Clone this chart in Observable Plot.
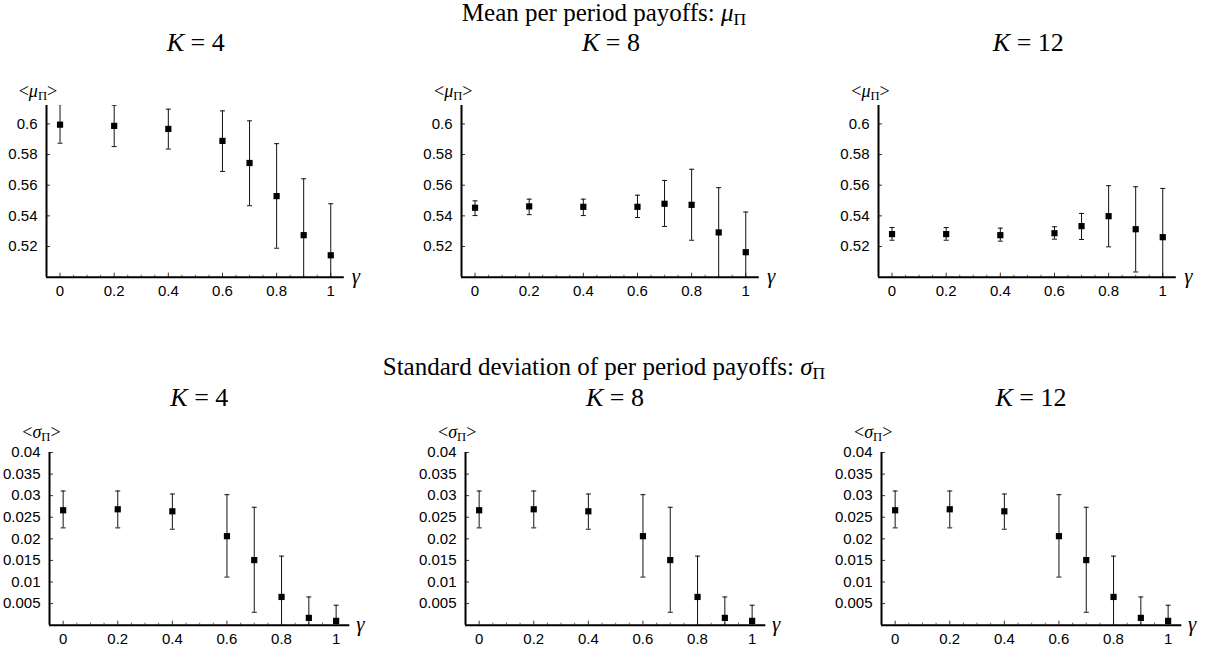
<!DOCTYPE html>
<html><head><meta charset="utf-8">
<script src="https://cdn.jsdelivr.net/npm/d3@7"></script>
<script src="https://cdn.jsdelivr.net/npm/@observablehq/plot@0.6"></script>
<style>
body{margin:0;background:#fff;}
#root{position:relative;width:1212px;height:649px;overflow:hidden;font-family:"Liberation Serif","DejaVu Serif",serif;color:#000;}
.t{position:absolute;white-space:nowrap;line-height:1;}
.c{transform:translateX(-50%);}
.t sub{font-size:0.7em;vertical-align:-0.25em;line-height:0;}
svg{position:absolute;}
</style></head><body><div id="root"></div><script>
// ---- data ----
const gamma = [0, 0.2, 0.4, 0.6, 0.7, 0.8, 0.9, 1];
const kValues = [4, 8, 12];
const xTicks = [0, 0.2, 0.4, 0.6, 0.8, 1];
const xMinorTicks = [0.05, 0.1, 0.15, 0.25, 0.3, 0.35, 0.45, 0.5, 0.55, 0.65, 0.7, 0.75, 0.85, 0.9, 0.95];
const meanTicks = [0.52, 0.54, 0.56, 0.58, 0.6];
const sdTicks = [0.005, 0.01, 0.015, 0.02, 0.025, 0.03, 0.035, 0.04];

// mean per period payoffs (centre, lower, upper) for K = 4, 8, 12
const meanK4 = [0.5995, 0.5987, 0.5967, 0.5889, 0.5745, 0.5529, 0.5274, 0.5143];
const meanK4Lo = [0.5874, 0.5852, 0.5836, 0.5690, 0.5466, 0.5189, 0.4906, 0.4807];
const meanK4Hi = [0.6126, 0.6122, 0.6096, 0.6085, 0.6020, 0.5871, 0.5642, 0.5479];
const meanK8 = [0.5453, 0.5462, 0.5459, 0.5459, 0.5479, 0.5472, 0.5292, 0.5163];
const meanK8Lo = [0.5402, 0.5408, 0.5402, 0.5389, 0.5331, 0.5241, 0.4995, 0.4901];
const meanK8Hi = [0.5498, 0.5509, 0.5509, 0.5535, 0.5631, 0.5704, 0.5584, 0.5425];
const meanK12 = [0.5281, 0.5281, 0.5274, 0.5287, 0.5333, 0.5398, 0.5313, 0.5261];
const meanK12Lo = [0.5241, 0.5241, 0.5235, 0.5248, 0.5246, 0.5198, 0.5034, 0.4943];
const meanK12Hi = [0.5324, 0.5324, 0.5320, 0.5329, 0.5416, 0.5597, 0.5590, 0.5579];

// standard deviation of per period payoffs (identical for K = 4, 8, 12)
const sdK4 = [0.02662, 0.02685, 0.02638, 0.02062, 0.01508, 0.00654, 0.00169, 0.00100];
const sdK4Lo = [0.02254, 0.02254, 0.02223, 0.01115, 0.00300, -0.0030, -0.0030, -0.0026];
const sdK4Hi = [0.03108, 0.03108, 0.03038, 0.03023, 0.02731, 0.01600, 0.00654, 0.00462];
const sdK8 = sdK4, sdK8Lo = sdK4Lo, sdK8Hi = sdK4Hi;
const sdK12 = sdK4, sdK12Lo = sdK4Lo, sdK12Hi = sdK4Hi;

const meanSeries = [[meanK4, meanK4Lo, meanK4Hi], [meanK8, meanK8Lo, meanK8Hi], [meanK12, meanK12Lo, meanK12Hi]];
const sdSeries = [[sdK4, sdK4Lo, sdK4Hi], [sdK8, sdK8Lo, sdK8Hi], [sdK12, sdK12Lo, sdK12Hi]];

// ---- layout ----
const root = document.getElementById("root");
function addText(html, x, y, size, center, extra) {
  const d = document.createElement("div");
  d.className = "t" + (center ? " c" : "");
  d.style.left = x + "px"; d.style.top = y + "px"; d.style.fontSize = size + "px";
  if (extra) Object.assign(d.style, extra);
  d.innerHTML = html;
  root.appendChild(d);
}
const cap = {draw(ctx, size) { const w = Math.sqrt(size / Math.PI); ctx.moveTo(-w, 0); ctx.lineTo(w, 0); }};
const xDomain = [-0.05, 1.05];

function panel(series, yDomain, yTicks, axisX, axisTop, plotW, plotH) {
  const [mid, lo, hi] = series;
  const data = gamma.map((g, i) => ({g, m: mid[i], lo: lo[i], hi: hi[i]}));
  const mL = 60, mR = 40, mT = 12, mB = 34;
  const svg = Plot.plot({
    width: mL + plotW + mR, height: mT + plotH + mB,
    marginLeft: mL, marginRight: mR, marginTop: mT, marginBottom: mB,
    x: {domain: xDomain, label: null},
    y: {domain: yDomain, label: null},
    style: {fontFamily: "'Liberation Sans', Arial, sans-serif", fontSize: "15px", background: "transparent", color: "#000"},
    marks: [
      Plot.axisX(xTicks, {tickSize: 0, tickPadding: 8, tickFormat: d => String(d), label: null}),
      Plot.axisY(yTicks, {tickSize: 0, tickPadding: 9, tickFormat: d => String(d), label: null}),
      Plot.ruleX(xTicks, {insetTop: plotH - 4, stroke: "#000", strokeWidth: 0.8}),
      Plot.ruleX(xMinorTicks, {insetTop: plotH - 2, stroke: "#000", strokeWidth: 0.6}),
      Plot.ruleY(yTicks, {insetRight: plotW - 4, stroke: "#000", strokeWidth: 0.8}),
      Plot.ruleX(data, {x: "g", y1: "lo", y2: "hi", stroke: "#111", strokeWidth: 1, clip: true}),
      Plot.dot(data, {x: "g", y: "lo", symbol: cap, r: 2.5, fill: "none", stroke: "#111", strokeWidth: 1, clip: true}),
      Plot.dot(data, {x: "g", y: "hi", symbol: cap, r: 2.5, fill: "none", stroke: "#111", strokeWidth: 1, clip: true}),
      Plot.dot(data, {x: "g", y: "m", symbol: "square", r: 3.5, fill: "#000", stroke: "none"}),
      Plot.ruleY([yDomain[0]], {stroke: "#000", strokeWidth: 2}),
      Plot.ruleX([xDomain[0]], {stroke: "#000", strokeWidth: 2})
    ]
  });
  svg.style.left = (axisX - mL) + "px";
  svg.style.top = (axisTop - mT) + "px";
  root.appendChild(svg);
}

// row 1: means
const topAxisX = [45.7, 461, 878.3];
addText("Mean per period payoffs: <i>μ</i><sub>Π</sub>", 604, 0, 25, true);
kValues.forEach((k, i) => {
  const ax = topAxisX[i];
  panel(meanSeries[i], [0.5, 0.612], meanTicks, ax, 105, 297.8, 171.7);
  addText("<i>K</i>&nbsp;=&nbsp;" + k, ax + 150, 30, 26, true);
  addText("&lt;<i>μ</i><sub>Π</sub>&gt;", ax - 27, 82, 18, false);
  addText("<i>γ</i>", ax + 306, 266, 21, false);
});

// row 2: standard deviations
const botAxisX = [49.3, 465, 881];
addText("Standard deviation of per period payoffs: <i>σ</i><sub>Π</sub>", 604, 354, 25, true);
kValues.forEach((k, i) => {
  const ax = botAxisX[i];
  panel(sdSeries[i], [0, 0.04], sdTicks, ax, 452.3, 300.3, 172.7);
  addText("<i>K</i>&nbsp;=&nbsp;" + k, ax + 150, 385, 26, true);
  addText("&lt;<i>σ</i><sub>Π</sub>&gt;", ax - 27, 423, 18, false);
  addText("<i>γ</i>", ax + 307, 614, 21, false);
});
</script></body></html>
